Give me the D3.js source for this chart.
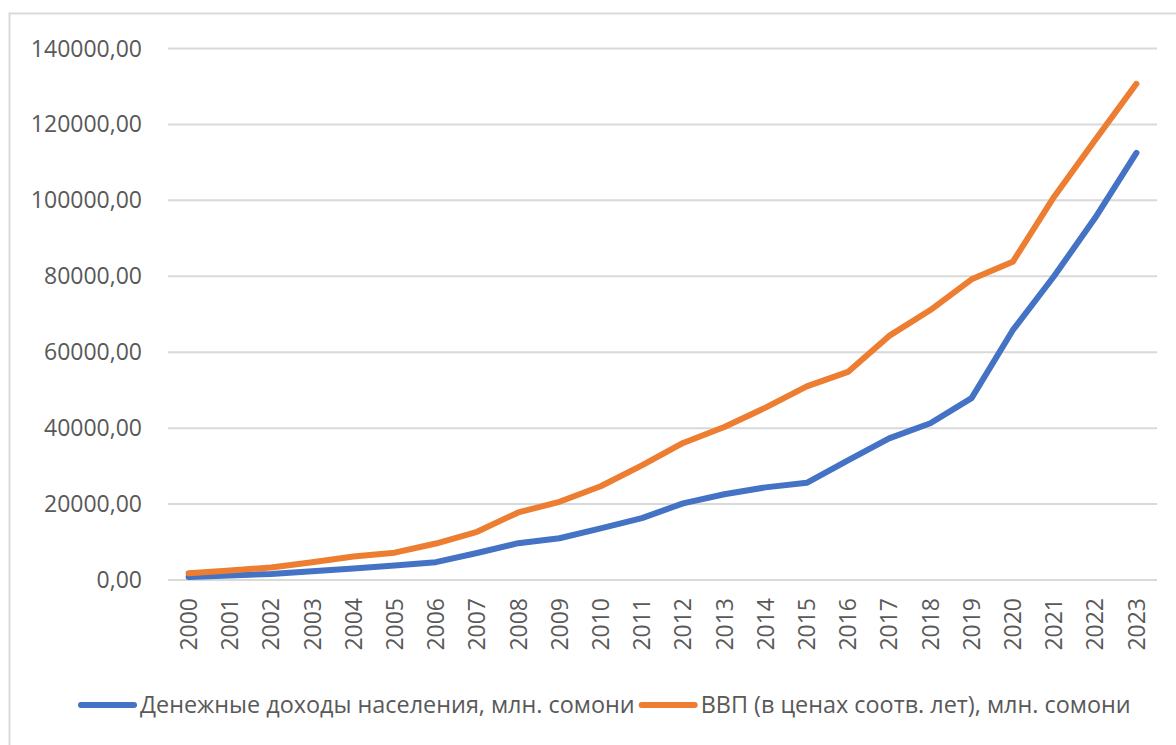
<!DOCTYPE html>
<html>
<head>
<meta charset="utf-8">
<script src="https://cdn.jsdelivr.net/npm/d3@7"></script>
<style>
  html, body { margin: 0; padding: 0; background: #fff; }
  svg text { font-family: "Open Sans", "Noto Sans", sans-serif; fill: #595959; }
</style>
</head>
<body>
<div id="chart"></div>
<script>
// categories and series
var years = ["2000", "2001", "2002", "2003", "2004", "2005", "2006", "2007",
             "2008", "2009", "2010", "2011", "2012", "2013", "2014", "2015",
             "2016", "2017", "2018", "2019", "2020", "2021", "2022", "2023"];
var income = [800, 1200, 1600, 2300, 3000, 3800, 4700, 7100, 9700, 11000, 13600, 16300,
              20200, 22600, 24400, 25600, 31500, 37300, 41300, 47900, 65800, 80000, 95400, 112500];
var gdp = [1800, 2500, 3300, 4700, 6200, 7200, 9600, 12700, 17800, 20600, 24700, 30200,
           36100, 40300, 45400, 51000, 54800, 64300, 71100, 79200, 83800, 100900, 115900, 130700];
var yTicks = [0, 20000, 40000, 60000, 80000, 100000, 120000, 140000];
var seriesNames = ["Денежные доходы населения, млн. сомони",
                   "ВВП (в ценах соотв. лет), млн. сомони"];
var colors = ["#4472C4", "#ED7D31"];

(function () {
    'use strict';

    var w = 1176,
        h = 745;

    var svg = d3.select("#chart")
        .append("svg")
        .attr("width", w)
        .attr("height", h);

    // chart area frame
    svg.append("rect")
        .attr("x", 9.5)
        .attr("y", 13.5)
        .attr("width", 1300)
        .attr("height", 900)
        .attr("fill", "none")
        .attr("stroke", "#d9d9d9")
        .attr("stroke-width", 2);

    var x = d3.scaleBand().domain(years).range([168, 1157]).padding(0),
        y = d3.scaleLinear().domain([0, 140000]).range([580, 48.5]);

    var fmt = function (v) { return d3.format(".2f")(v).replace(".", ","); };

    // gridlines
    svg.append("g")
        .selectAll("line")
        .data(yTicks)
        .enter().append("line")
        .attr("x1", 168)
        .attr("x2", 1157)
        .attr("y1", function (d) { return y(d); })
        .attr("y2", function (d) { return y(d); })
        .attr("stroke", "#d9d9d9")
        .attr("stroke-width", 2);

    // y labels
    svg.append("g")
        .selectAll("text")
        .data(yTicks)
        .enter().append("text")
        .attr("x", 142)
        .attr("y", function (d) { return y(d); })
        .attr("dy", "0.35em")
        .attr("text-anchor", "end")
        .style("font-size", "23px")
        .text(fmt);

    // x labels, rotated
    svg.append("g")
        .selectAll("text")
        .data(years)
        .enter().append("text")
        .attr("transform", function (d) {
            return "translate(" + (x(d) + x.bandwidth() / 2) + ",598) rotate(-90)";
        })
        .attr("dy", "0.36em")
        .attr("text-anchor", "end")
        .style("font-size", "23px")
        .text(function (d) { return d; });

    var line = d3.line()
        .x(function (d, i) { return x(years[i]) + x.bandwidth() / 2; })
        .y(function (d) { return y(d); });

    [income, gdp].forEach(function (s, i) {
        svg.append("path")
            .attr("d", line(s))
            .attr("fill", "none")
            .attr("stroke", colors[i])
            .attr("stroke-width", 6)
            .attr("stroke-linejoin", "round")
            .attr("stroke-linecap", "round");
    });

    // legend
    var lg = svg.append("g").attr("transform", "translate(78,705)");
    var cx = 0;
    seriesNames.forEach(function (name, i) {
        lg.append("line")
            .attr("x1", cx + 3)
            .attr("x2", cx + 56)
            .attr("stroke", colors[i])
            .attr("stroke-width", 6)
            .attr("stroke-linecap", "round");
        var t = lg.append("text")
            .attr("x", cx + 62)
            .attr("dy", "0.35em")
            .style("font-size", "23.4px")
            .text(name);
        cx += 62 + t.node().getComputedTextLength() + 4;
    });
})();
</script>
</body>
</html>
